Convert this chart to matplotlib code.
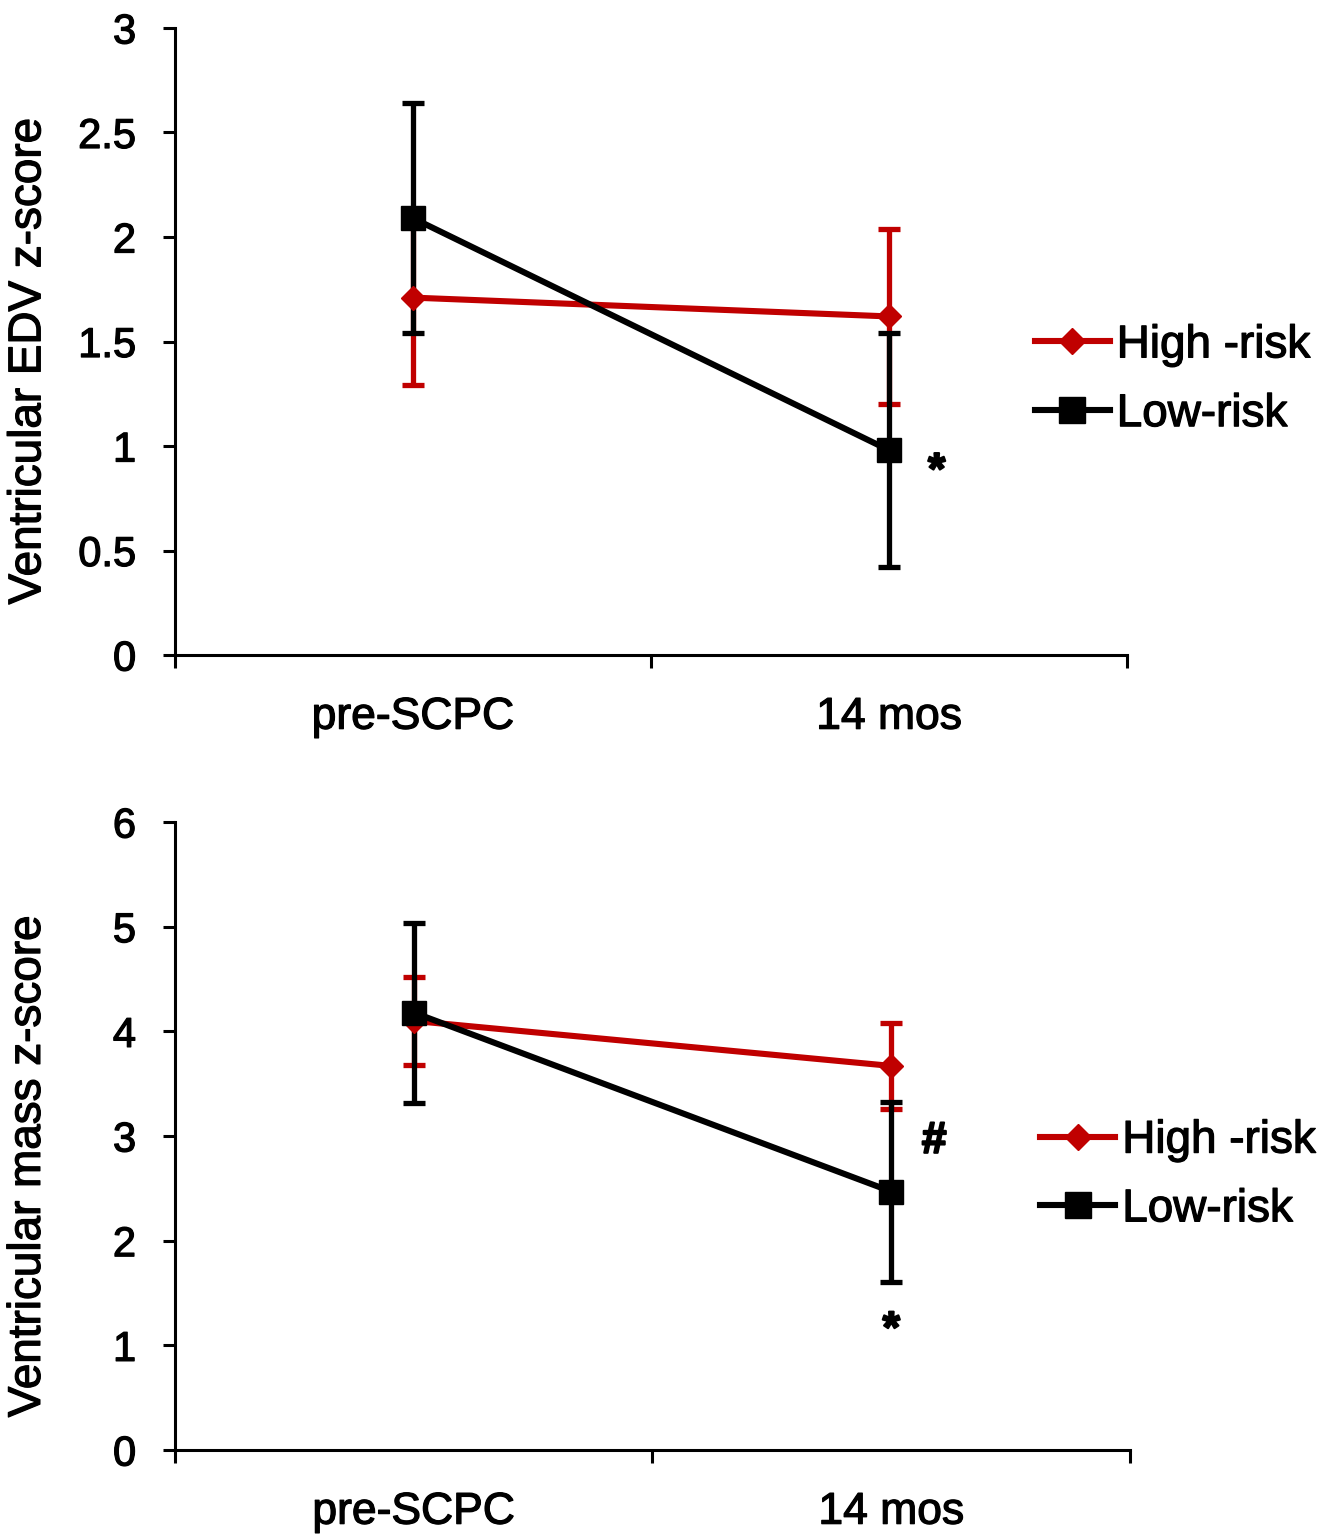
import matplotlib
matplotlib.use('Agg')
import matplotlib.pyplot as plt
import matplotlib.patheffects as pe
from matplotlib.ticker import FuncFormatter, FixedLocator

plt.rcParams['font.family'] = ['Liberation Sans', 'DejaVu Sans']

# data
categories = ['pre-SCPC', '14 mos']
series_names = ['High -risk', 'Low-risk']

edv_high = [1.71, 1.62]
edv_high_err = [0.42, 0.42]
edv_low = [2.09, 0.98]
edv_low_err = [0.55, 0.56]

mass_high = [4.10, 3.67]
mass_high_err = [0.42, 0.41]
mass_low = [4.18, 2.47]
mass_low_err = [0.86, 0.86]

RED = '#C00000'
BLACK = '#000000'

# slightly heavier text, like the original rendering
heavy = [pe.withStroke(linewidth=0.9, foreground='black')]

x = [i + 1 for i in range(len(categories))]


def panel(ax, high, high_err, low, low_err, ymax, ystep, ylabel, ylab_y, leg_pos):
    # error bars first, then the lines (as in the original)
    ax.errorbar(x, high, yerr=high_err, fmt='none', ecolor=RED, elinewidth=3.8,
                capsize=8, capthick=3.8, zorder=2)
    ax.errorbar(x, low, yerr=low_err, fmt='none', ecolor=BLACK, elinewidth=3.8,
                capsize=8, capthick=3.8, zorder=3)
    ax.plot(x, high, color=RED, lw=4.4, marker='D', ms=12, mec=RED, mfc=RED,
            label=series_names[0], zorder=4)
    ax.plot(x, low, color=BLACK, lw=4.4, marker='s', ms=17, mec=BLACK, mfc=BLACK,
            label=series_names[1], zorder=5)

    ax.set_xlim(0.5, len(categories) + 0.5)
    ax.set_ylim(0, ymax)
    ax.spines['top'].set_visible(False)
    ax.spines['right'].set_visible(False)
    for s in ['left', 'bottom']:
        ax.spines[s].set_linewidth(2.2)

    yt = [i * ystep for i in range(int(round(ymax / ystep)) + 1)]
    ax.set_yticks(yt)
    ax.yaxis.set_major_formatter(FuncFormatter(lambda v, p: '{:g}'.format(v)))
    ax.tick_params(axis='y', direction='out', length=9, width=2.2, pad=19, labelsize=30)

    # excel-like category axis: ticks between categories, labels in middle
    ax.xaxis.set_major_locator(FixedLocator([0.5 + i for i in range(len(categories) + 1)]))
    ax.xaxis.set_major_formatter(FuncFormatter(lambda v, p: ''))
    ax.xaxis.set_minor_locator(FixedLocator(x))
    ax.set_xticklabels(categories, minor=True)
    ax.tick_params(axis='x', which='major', direction='out', length=9, width=2.2)
    ax.tick_params(axis='x', which='minor', length=0, pad=30, labelsize=32)

    ax.set_ylabel(ylabel, fontsize=33)
    ax.yaxis.set_label_coords(-0.131, ylab_y)

    leg = ax.legend(loc='center left', bbox_to_anchor=leg_pos, frameon=False, fontsize=33,
                    borderpad=0, borderaxespad=0, handlelength=1.64, handletextpad=0.15,
                    labelspacing=0.54, markerscale=1.1)

    for t in ax.get_yticklabels() + ax.get_xticklabels(minor=True) + leg.get_texts():
        t.set_path_effects(heavy)
    ax.yaxis.label.set_path_effects(heavy)


fig = plt.figure(figsize=(13.39, 15.38), dpi=100)
ax1 = fig.add_axes([0.1307, 0.5741, 0.711, 0.4077])
ax2 = fig.add_axes([0.1307, 0.0572, 0.7132, 0.4083])

panel(ax1, edv_high, edv_high_err, edv_low, edv_low_err, 3, 0.5,
      'Ventricular EDV z-score', 0.469, (0.903, 0.439))
panel(ax2, mass_high, mass_high_err, mass_low, mass_low_err, 6, 1,
      'Ventricular mass z-score', 0.452, (0.906, 0.438))

# significance marks
marks = [
    ax1.text(2.10, 0.82, '*', fontsize=32, fontweight='bold', ha='center', va='baseline'),
    ax2.text(2.09, 2.84, '#', fontsize=32, fontweight='bold', ha='center', va='baseline'),
    ax2.text(2.00, 1.03, '*', fontsize=32, fontweight='bold', ha='center', va='baseline'),
]
for m in marks:
    m.set_path_effects([pe.withStroke(linewidth=1.5, foreground='black')])

fig.savefig('out.png', dpi=100)
